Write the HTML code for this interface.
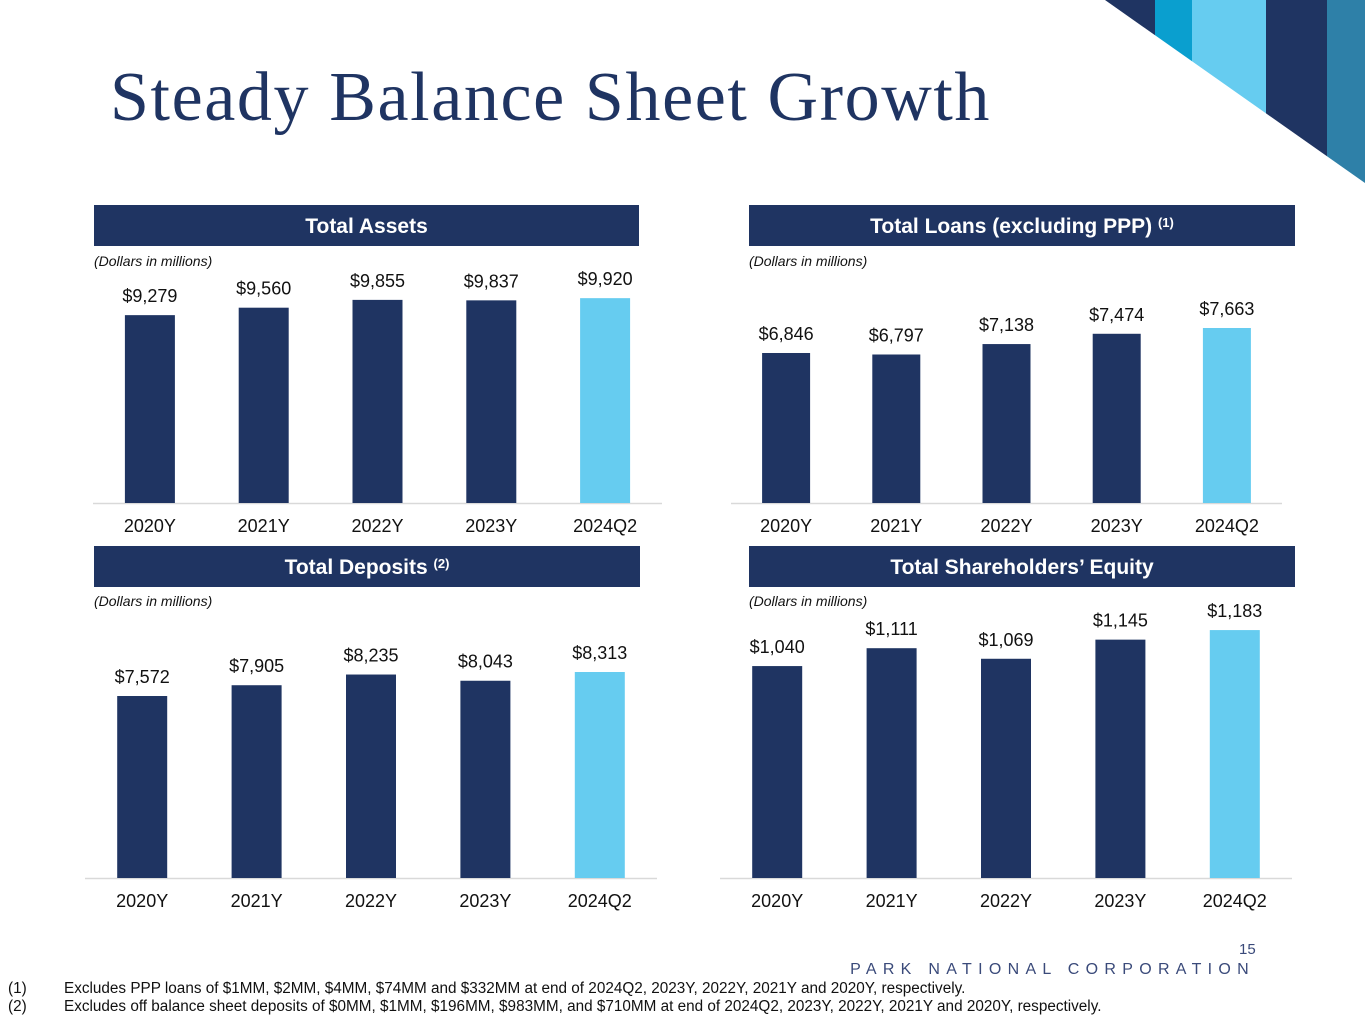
<!DOCTYPE html>
<html><head><meta charset="utf-8"><style>
body{margin:0;width:1365px;height:1024px;background:#fff;position:relative;overflow:hidden;font-family:"Liberation Sans",Arial,sans-serif}
.title{position:absolute;left:110px;top:58px;font-family:"Liberation Serif",serif;font-size:70px;letter-spacing:1.6px;color:#1f3462;white-space:nowrap}
.hdr{position:absolute;height:41px;background:#1f3462;color:#fff;font-weight:bold;font-size:21px;text-align:center;line-height:43px}
.hdr sup{font-size:13px;line-height:0;vertical-align:6px}
.note{position:absolute;font-style:italic;font-size:14px;color:#111}
.foot{position:absolute;left:8px;font-size:15.3px;color:#111;white-space:nowrap}
.foot span{display:inline-block;width:56px}
</style></head><body>
<svg style="position:absolute;left:0;top:0" width="1365" height="200">
<defs><clipPath id="cp"><polygon points="1105,0 1365,0 1365,183"/></clipPath></defs>
<g clip-path="url(#cp)">
<rect x="1095" y="0" width="60" height="200" fill="#1f3462"/>
<rect x="1155" y="0" width="37" height="200" fill="#0a9fcf"/>
<rect x="1192" y="0" width="74" height="200" fill="#66ccf0"/>
<rect x="1266" y="0" width="61" height="200" fill="#1f3462"/>
<rect x="1327" y="0" width="38" height="200" fill="#2e80a8"/>
</g></svg>
<div class="title">Steady Balance Sheet Growth</div>

<div class="hdr" style="left:94px;top:205px;width:545px">Total Assets</div>
<div class="hdr" style="left:749px;top:205px;width:546px">Total Loans (excluding PPP) <sup>(1)</sup></div>
<div class="hdr" style="left:94px;top:546px;width:546px">Total Deposits <sup>(2)</sup></div>
<div class="hdr" style="left:749px;top:546px;width:546px">Total Shareholders’ Equity</div>
<div class="note" style="left:94px;top:253px">(Dollars in millions)</div>
<div class="note" style="left:749px;top:253px">(Dollars in millions)</div>
<div class="note" style="left:94px;top:593px">(Dollars in millions)</div>
<div class="note" style="left:749px;top:593px">(Dollars in millions)</div>

<svg id="charts" style="position:absolute;left:0;top:0" width="1365" height="1024"></svg>

<div style="position:absolute;left:1239px;top:941px;font-size:15px;color:#3a4a7a">15</div>
<div style="position:absolute;right:110px;top:961px;font-size:16px;letter-spacing:6.3px;color:#3a4a7a;white-space:nowrap">PARK NATIONAL CORPORATION</div>
<div class="foot" style="top:980px"><span>(1)</span>Excludes PPP loans of $1MM, $2MM, $4MM, $74MM and $332MM at end of 2024Q2, 2023Y, 2022Y, 2021Y and 2020Y, respectively.</div>
<div class="foot" style="top:998px"><span>(2)</span>Excludes off balance sheet deposits of $0MM, $1MM, $196MM, $983MM, and $710MM at end of 2024Q2, 2023Y, 2022Y, 2021Y and 2020Y, respectively.</div>

<script>
const categories = ["2020Y","2021Y","2022Y","2023Y","2024Q2"];
const assetsValues = [9279,9560,9855,9837,9920];
const loansValues = [6846,6797,7138,7474,7663];
const depositsValues = [7572,7905,8235,8043,8313];
const equityValues = [1040,1111,1069,1145,1183];
const NS="http://www.w3.org/2000/svg";
const svg=document.getElementById('charts');
function mk(t,a){const e=document.createElementNS(NS,t);for(const k in a)e.setAttribute(k,a[k]);svg.appendChild(e);return e;}
function draw(name,vals,cfg){
  const y=v=>cfg.base-(v-cfg.min)*cfg.scale;
  const ax=mk('line',{x1:cfg.ax0,x2:cfg.ax1,y1:cfg.base+0.5,y2:cfg.base+0.5,stroke:'#d9d9d9','stroke-width':1.5});
  
  
  const step=(cfg.ax1-cfg.ax0)/categories.length;
  vals.forEach((v,i)=>{
    const cx=cfg.ax0+step*(i+0.5);
    const top=y(v);
    const r=mk('rect',{x:cx-cfg.bw/2,y:top,width:cfg.bw,height:cfg.base-top,fill:i===vals.length-1?'#66ccf0':'#1f3462'});
    
    
    const t=mk('text',{x:cx,y:top-13,'text-anchor':'middle','font-size':18,fill:'#111','font-family':'Liberation Sans, sans-serif'});
    t.textContent='$'+v.toLocaleString('en-US');
    
    
    const c=mk('text',{x:cx,y:cfg.base+29,'text-anchor':'middle','font-size':18,fill:'#111','font-family':'Liberation Sans, sans-serif'});
    c.textContent=categories[i];
    
    
  });
}
draw('assets',assetsValues,{ax0:93,ax1:662,base:503,min:2190,scale:0.0265,bw:50});
draw('loans',loansValues,{ax0:731,ax1:1282,base:503,min:1944,scale:0.0306,bw:48});
draw('deposits',depositsValues,{ax0:85,ax1:657,base:878,min:1955,scale:0.0324,bw:50});
draw('equity',equityValues,{ax0:720,ax1:1292,base:878,min:198,scale:0.2517,bw:50});
</script>
</body></html>
